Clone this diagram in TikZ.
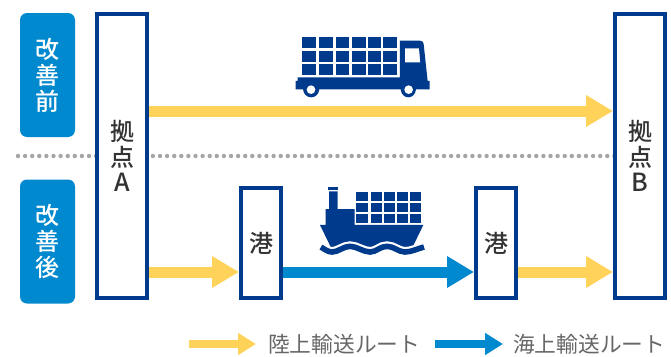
\documentclass[tikz,border=0pt]{standalone}
\usepackage{fontspec}
\setmainfont{Noto Sans CJK JP}
\newfontfamily\semibold{Noto Sans CJK JP Medium}
\newfontfamily\slightbold{Noto Sans CJK JP Medium}
\usetikzlibrary{arrows.meta}
\definecolor{navy}{HTML}{003A8C}
\definecolor{skyb}{HTML}{0089CE}
\definecolor{sun}{HTML}{FFD25A}
\definecolor{ink}{HTML}{333333}
\definecolor{legendgray}{HTML}{666666}
\definecolor{dotgray}{HTML}{A5A5A5}
\tikzset{
  site/.style={draw=navy,line width=4pt,fill=white,text=ink,inner sep=0pt,align=center,font=\fontsize{24}{25.5}\selectfont\semibold},
  era/.style={fill=skyb,rounded corners=7pt,text=white,minimum width=55pt,minimum height=124pt,inner sep=0pt,align=center,font=\fontsize{24}{26}\selectfont\slightbold},
  landarrow/.style={draw=sun,line width=11pt,-{Triangle[length=27pt,width=30pt]}},
  seaarrow/.style={draw=skyb,line width=11pt,-{Triangle[length=27pt,width=30pt]}},
  keyland/.style={draw=sun,line width=8pt,-{Triangle[length=18pt,width=21pt]}},
  keysea/.style={draw=skyb,line width=8pt,-{Triangle[length=18pt,width=21pt]}},
  keytext/.style={text=legendgray,anchor=west,inner sep=0pt,font=\fontsize{21.7}{24}\selectfont},
  icon/.style={fill=navy,draw=none},
  zoomed/.style={x=0.3333pt,y=-0.3333pt}
}
\begin{document}
\begin{tikzpicture}[x=1pt,y=-1pt]
\useasboundingbox (0,0) rectangle (671,356);
\coordinate (dotL) at (18,156);
\coordinate (dotR) at (668,156);
\draw[dotgray,line width=4.4pt,dash pattern=on 0pt off 7.1pt,line cap=round] (dotL) -- (dotR);

\node[era] (before) at (47.5,75) {改\\善\\前};
\node[era] (after) at (47.5,241.5) {改\\善\\後};

\node[site,minimum width=50pt,minimum height=284pt] (siteA) at (122,156) {拠\\点\\{\fontsize{25}{25.5}\selectfont A}};
\node[site,minimum width=50pt,minimum height=284pt] (siteB) at (640,156) {拠\\点\\{\fontsize{25}{25.5}\selectfont B}};
\node[site,minimum width=40pt,minimum height=110pt] (portA) at (261,243) {港};
\node[site,minimum width=40pt,minimum height=110pt] (portB) at (496,243) {港};

\draw[landarrow] (siteA.east |- 0,111) -- (siteB.west |- 0,111);
\draw[landarrow] (siteA.east |- 0,272) -- (portA.west |- 0,272);
\draw[seaarrow] (portA.east |- 0,272) -- (portB.west |- 0,272);
\draw[landarrow] (portB.east |- 0,272) -- (siteB.west |- 0,272);

% truck
\begin{scope}[shift={(280,20)},zoomed]
\foreach \xa/\xb in {67/108,118/160,167/208,215/257,263/304,310/352}
  \foreach \ya/\yb in {50/84,93/126,132/165}
    \fill[icon] (\xa,\ya) rectangle (\xb,\yb);
\fill[icon,even odd rule]
  (360,62) -- (420,62) .. controls (428,62) and (430,67) .. (431,72)
  -- (443,183) -- (449,183) -- (449,208) -- (408,208)
  .. controls (405,240) and (365,240) .. (362,208)
  -- (118,208) .. controls (115,240) and (72,240) .. (69,208)
  -- (47,208) -- (47,183) -- (53,183) -- (53,172) -- (360,172) -- cycle
  (375,85) -- (375,127) -- (421,127) -- (417,85) -- cycle;
\fill[white] (93,209) circle (13);
\fill[white] (386,209) circle (13);
\end{scope}

% ship
\begin{scope}[shift={(300,175)},zoomed]
\foreach \xa/\xb in {169/205,212/247,251/285,290/325,330/364}
  \foreach \ya/\yb in {51/78,84/111,118/144}
    \fill[icon] (\xa,\ya) rectangle (\xb,\yb);
\fill[icon] (85,36) rectangle (113,45);
\fill[icon] (87,49) -- (113,49) -- (113,102) -- (164,102) -- (164,150) -- (370,150)
  -- (335,222) -- (95,222) -- (60,150) -- (77,150) -- (77,102) -- (87,102) -- cycle;
\def\wavepath{(63,216) .. controls (75,224) and (85,231) .. (96,231)
  .. controls (115,231) and (130,214) .. (150,214)
  .. controls (170,214) and (190,231) .. (210,231)
  .. controls (230,231) and (240,214) .. (261,214)
  .. controls (282,214) and (295,231) .. (315,231)
  .. controls (335,231) and (355,220) .. (372,216)}
\draw[white,line width=10pt] (40,216) -- (63,216) \wavepath -- (395,216);
\fill[white] (40,226) rectangle (395,260);
\draw[navy,line width=5.6pt] \wavepath;
\end{scope}

% legend
\coordinate (k1a) at (189,344);
\coordinate (k1b) at (256,344);
\coordinate (k2a) at (435,344);
\coordinate (k2b) at (503,344);
\draw[keyland] (k1a) -- (k1b);
\draw[keysea] (k2a) -- (k2b);
\node[keytext] (k1t) at (268,344) {陸上輸送ルート};
\node[keytext] (k2t) at (513,344) {海上輸送ルート};
\end{tikzpicture}
\end{document}
